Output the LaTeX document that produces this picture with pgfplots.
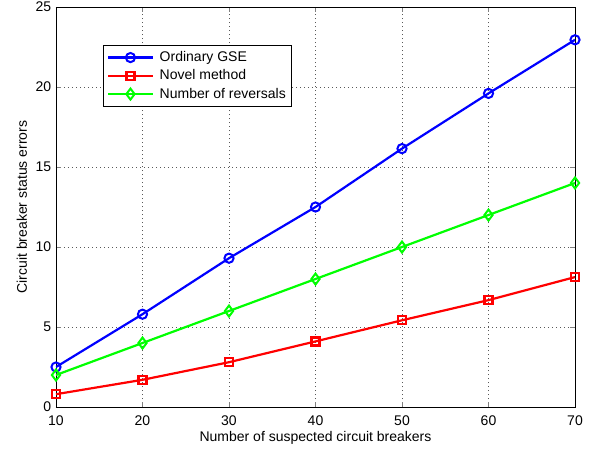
\documentclass[border=0pt]{standalone}
\usepackage{pgfplots}
\pgfplotsset{compat=1.18}
\usetikzlibrary{calc}
\usepackage{fontspec}
\setmainfont{Liberation Sans}
\begin{document}
\fontsize{14}{16}\selectfont
\begin{tikzpicture}
\begin{axis}[
  scale only axis,
  width=519pt, height=400pt,
  xmin=10, xmax=70, ymin=0, ymax=25,
  xtick={10,20,30,40,50,60,70},
  ytick={0,5,10,15,20,25},
  tick align=inside,
  tick pos=both,
  major tick length=5pt,
  grid=major,
  grid style={dash pattern=on 1pt off 3pt, black!65, line width=0.7pt},
  axis line style={black, line width=0.9pt},
  /pgf/number format/assume math mode=true,
  ticklabel style={font=\fontsize{14}{16}\selectfont},
  xticklabel style={yshift=-4pt},
  label style={font=\fontsize{14}{16}\selectfont},
  xlabel={Number of suspected circuit breakers},
  ylabel={Circuit breaker status errors},
  xlabel style={yshift=4pt},
  ylabel style={yshift=-1pt},
  legend style={at={(0.09,0.905)}, anchor=north west, draw=black, line width=0.9pt,
    font=\fontsize{14}{16}\selectfont, row sep=2pt, inner sep=4pt,
    /tikz/every odd column/.append style={column sep=4pt}},
  legend cell align=left,
  legend image code/.code={\draw[line width=2.2pt, mark repeat=2,mark phase=2] plot coordinates {(0cm,0cm) (0.78cm,0cm) (1.56cm,0cm)};},
  every axis plot/.append style={line width=2.2pt},
]
\addplot[blue, mark=o, mark size=4.6pt, mark options={line width=2pt}] coordinates {
(10,2.5) (20,5.8) (30,9.3) (40,12.5) (50,16.15) (60,19.6) (70,22.95)};
\addlegendentry{Ordinary GSE}
\addplot[red, mark=square, mark size=4pt, mark options={line width=2.2pt}] coordinates {
(10,0.8) (20,1.7) (30,2.8) (40,4.1) (50,5.42) (60,6.68) (70,8.12)};
\addlegendentry{Novel method}
\addplot[green, mark=diamond, mark size=5.5pt, mark options={line width=2pt}] coordinates {
(10,2) (20,4) (30,6) (40,8) (50,10) (60,12) (70,14)};
\addlegendentry{Number of reversals}
\end{axis}
\pgfresetboundingbox
\path[use as bounding box] ($(current axis.south west)+(-56pt,-44pt)$) rectangle ($(current axis.south west)+(537pt,407pt)$);
\end{tikzpicture}
\end{document}
